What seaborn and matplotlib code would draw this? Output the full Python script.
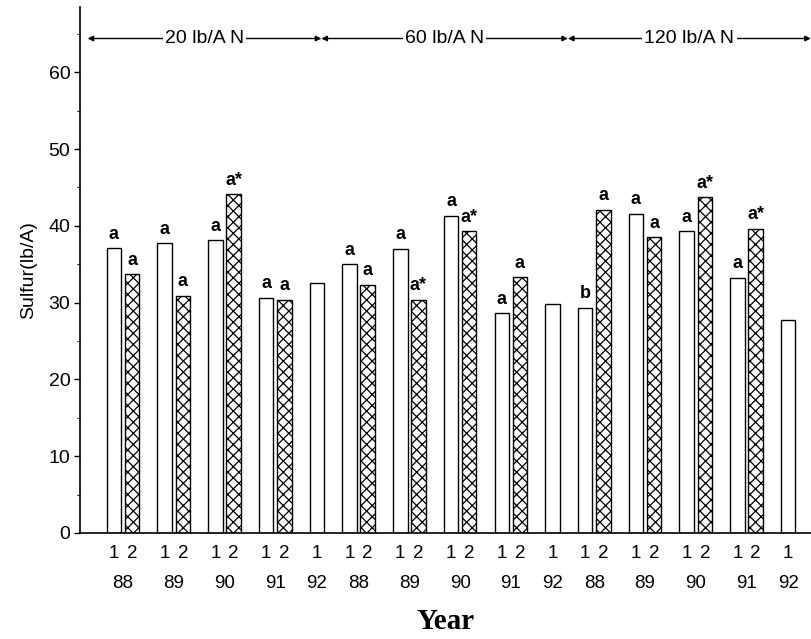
import numpy as np
import pandas as pd
import matplotlib
matplotlib.use('Agg')
import matplotlib.pyplot as plt
import matplotlib.transforms as mtransforms
import seaborn as sns

# N rates and years
rates = ['20 lb/A N', '60 lb/A N', '120 lb/A N']
years = ['88', '89', '90', '91', '92']

# Sulfur (lb/A) for treatment 1 and treatment 2 (92 has only treatment 1)
s1_20 = [37.1, 37.7, 38.1, 30.6, 32.5]
s2_20 = [33.7, 30.9, 44.1, 30.4, None]
s1_60 = [35.0, 37.0, 41.3, 28.6, 29.8]
s2_60 = [32.3, 30.4, 39.3, 33.3, None]
s1_120 = [29.3, 41.6, 39.3, 33.2, 27.7]
s2_120 = [42.1, 38.5, 43.7, 39.6, None]

# letters above bars
lab1_20 = ['a', 'a', 'a', 'a', '']
lab2_20 = ['a', 'a', 'a*', 'a', '']
lab1_60 = ['a', 'a', 'a', 'a', '']
lab2_60 = ['a', 'a*', 'a*', 'a', '']
lab1_120 = ['b', 'a', 'a', 'a', '']
lab2_120 = ['a', 'a', 'a*', 'a*', '']

s1_all = [s1_20, s1_60, s1_120]
s2_all = [s2_20, s2_60, s2_120]
l1_all = [lab1_20, lab1_60, lab1_120]
l2_all = [lab2_20, lab2_60, lab2_120]

# build long table with bar positions (1 unit within a year, 1.8 gap between years)
rows = []
year_centers = []
pos = 0.0
for r in range(len(rates)):
    for i, yr in enumerate(years):
        rows.append(dict(pos=round(pos, 3), sulfur=s1_all[r][i], trt='1', lab=l1_all[r][i]))
        last = pos
        if s2_all[r][i] is not None:
            rows.append(dict(pos=round(pos + 1, 3), sulfur=s2_all[r][i], trt='2', lab=l2_all[r][i]))
            last = pos + 1
        year_centers.append(((pos + last) / 2, yr))
        pos = last + 1.8
df = pd.DataFrame(rows)

sns.set_style('ticks')
plt.rcParams['font.family'] = ['Liberation Sans', 'DejaVu Sans']
plt.rcParams['text.color'] = 'black'
plt.rcParams['axes.labelcolor'] = 'black'
plt.rcParams['xtick.color'] = 'black'
plt.rcParams['ytick.color'] = 'black'
plt.rcParams['hatch.linewidth'] = 0.9

fig = plt.figure(figsize=(8.12, 6.39), dpi=100)
ax = fig.add_axes([0.0985, 0.166, 0.9005, 0.823])

sns.barplot(data=df, x='pos', y='sulfur', native_scale=True, width=0.8,
            color='white', saturation=1, edgecolor='black', linewidth=1,
            errorbar=None, ax=ax)

for p in ax.patches:
    cx = p.get_x() + p.get_width() / 2
    k = (df['pos'] - cx).abs().idxmin()
    if df.loc[k, 'trt'] == '2':
        p.set_hatch('xxx')

for _, row in df.iterrows():
    if row['lab']:
        ax.annotate(row['lab'], (row['pos'], row['sulfur']), xytext=(0, 4),
                    textcoords='offset points', ha='center', va='bottom',
                    fontsize=13, fontweight='bold')

ax.set_xlim(-1.87, df['pos'].max() + 1.27)
ax.set_ylim(0, 68.5)
ax.set_yticks(np.arange(0, 61, 10))
ax.set_yticks(np.arange(0, 66, 5), minor=True)
ax.set_xticks(df['pos'])
ax.set_xticklabels(df['trt'])
ax.tick_params(axis='x', length=0, pad=9, labelsize=13.5)
ax.tick_params(axis='y', which='major', length=4, width=1, labelsize=14, pad=3)
ax.tick_params(axis='y', which='minor', length=2, width=0.8)

trans = mtransforms.blended_transform_factory(ax.transData, ax.transAxes)
for xc, yr in year_centers:
    ax.text(xc, -0.097, yr, transform=trans, ha='center', va='center', fontsize=13.5)

# N-rate spans at the top
span_edges = [-1.45, 11.45, 25.05, 38.45]
for r, name in enumerate(rates):
    a, b = span_edges[r], span_edges[r + 1]
    ax.annotate('', xy=(a, 64.4), xytext=(b, 64.4),
                arrowprops=dict(arrowstyle='<|-|>', lw=1, color='black',
                                shrinkA=0, shrinkB=0, mutation_scale=8),
                annotation_clip=False)
    ax.text((a + b) / 2, 64.4, name, ha='center', va='center', fontsize=14,
            bbox=dict(facecolor='white', edgecolor='none', pad=1.5), clip_on=False)

ax.set_ylabel('Sulfur(lb/A)', fontsize=14, labelpad=8)
ax.set_xlabel('Year', fontsize=21, fontweight='bold', family='Liberation Serif', labelpad=33)

for s in ['left', 'bottom']:
    ax.spines[s].set_linewidth(1.2)
    ax.spines[s].set_color('black')
sns.despine(ax=ax)

fig.savefig('out.png', dpi=100)
